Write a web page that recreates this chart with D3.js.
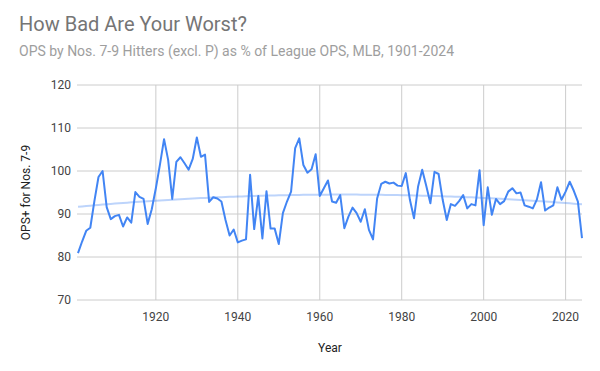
<!DOCTYPE html>
<html>
<head>
<meta charset="utf-8">
<script src="https://cdn.jsdelivr.net/npm/d3@7"></script>
<style>
  body { margin: 0; background: #fff; }
  svg { font-family: Roboto, Arial, sans-serif; }
</style>
</head>
<body>
<div id="chart"></div>
<script>
const firstYear = 1901;
const opsPlus = [
  80.9, 83.6, 86.1, 86.8, 93.0, 98.6, 100.0, 91.6, 88.8, 89.5,
  89.8, 87.1, 89.2, 88.0, 95.1, 94.0, 93.5, 87.7, 91.1, 96.0,
  101.5, 107.4, 102.6, 93.5, 102.1, 103.2, 101.8, 100.3, 102.8, 107.8,
  103.3, 103.8, 92.8, 93.9, 93.6, 92.9, 88.6, 85.0, 86.4, 83.4,
  83.8, 84.1, 99.1, 86.5, 94.2, 84.3, 95.3, 86.6, 86.6, 83.0,
  90.2, 92.9, 95.2, 105.3, 107.6, 101.4, 99.6, 100.4, 103.9, 94.2,
  96.0, 97.8, 92.9, 92.6, 94.4, 86.7, 89.4, 91.5, 90.2, 88.2,
  91.1, 86.3, 84.1, 93.6, 97.0, 97.5, 97.1, 97.3, 96.6, 96.5,
  99.5, 93.3, 89.0, 96.4, 100.3, 96.5, 92.5, 99.8, 99.3, 93.3,
  88.6, 92.3, 91.9, 93.0, 94.4, 91.3, 92.3, 92.0, 100.2, 87.4,
  96.2, 89.8, 93.5, 92.3, 93.0, 95.2, 96.0, 94.8, 95.0, 92.0,
  91.7, 91.3, 93.4, 97.4, 90.8, 91.5, 92.0, 96.2, 93.3, 95.2,
  97.5, 95.4, 92.9, 84.4
];
const years = d3.range(firstYear, firstYear + opsPlus.length);
const xTicks = [1920, 1940, 1960, 1980, 2000, 2020];
const yTicks = [70, 80, 90, 100, 110, 120];

const data = years.map((y, i) => ({ year: y, value: opsPlus[i] }));

// quadratic (polynomial) trendline fitted to the series
function polyFit(pts) {
  const x0 = d3.mean(pts, d => d.year);
  let s = [0, 0, 0, 0, 0], t = [0, 0, 0];
  pts.forEach(d => {
    const u = d.year - x0;
    for (let k = 0; k < 5; k++) s[k] += Math.pow(u, k);
    for (let k = 0; k < 3; k++) t[k] += d.value * Math.pow(u, k);
  });
  const A = [[s[0], s[1], s[2], t[0]], [s[1], s[2], s[3], t[1]], [s[2], s[3], s[4], t[2]]];
  for (let i = 0; i < 3; i++) {
    for (let j = i + 1; j < 3; j++) {
      const f = A[j][i] / A[i][i];
      for (let k = i; k < 4; k++) A[j][k] -= f * A[i][k];
    }
  }
  const c = [0, 0, 0];
  for (let i = 2; i >= 0; i--) {
    let v = A[i][3];
    for (let k = i + 1; k < 3; k++) v -= A[i][k] * c[k];
    c[i] = v / A[i][i];
  }
  return yr => c[0] + c[1] * (yr - x0) + c[2] * (yr - x0) * (yr - x0);
}
const trend = polyFit(data);
const trendData = years.map(y => ({ year: y, value: trend(y) }));

const width = 600, height = 371;
const margin = { top: 85, right: 18, bottom: 71, left: 78 };

const svg = d3.select("#chart").append("svg")
  .attr("width", width)
  .attr("height", height);

const x = d3.scaleLinear()
  .domain([firstYear, years[years.length - 1]])
  .range([margin.left, width - margin.right]);
const y = d3.scaleLinear()
  .domain([70, 120])
  .range([height - margin.bottom, margin.top]);

// titles
svg.append("text")
  .attr("x", 19).attr("y", 31)
  .style("font-size", "20px").style("fill", "#757575")
  .text("How Bad Are Your Worst?");
svg.append("text")
  .attr("x", 19).attr("y", 56)
  .style("font-size", "14px").style("fill", "#9e9e9e")
  .text("OPS by Nos. 7-9 Hitters (excl. P) as % of League OPS, MLB, 1901-2024");

// gridlines
svg.append("g").selectAll("line")
  .data(yTicks).enter().append("line")
  .attr("x1", margin.left - 1).attr("x2", width - margin.right)
  .attr("y1", d => y(d)).attr("y2", d => y(d))
  .attr("stroke", "#cccccc").attr("stroke-width", 1);
svg.append("g").selectAll("line")
  .data(xTicks).enter().append("line")
  .attr("x1", d => x(d)).attr("x2", d => x(d))
  .attr("y1", margin.top).attr("y2", height - margin.bottom)
  .attr("stroke", "#cccccc").attr("stroke-width", 1);

// axes labels
svg.append("g").selectAll("text")
  .data(yTicks).enter().append("text")
  .attr("x", 71).attr("y", d => y(d)).attr("dy", "0.35em")
  .attr("text-anchor", "end")
  .style("font-size", "12px").style("fill", "#444")
  .text(d => d);
svg.append("g").selectAll("text")
  .data(xTicks).enter().append("text")
  .attr("x", d => x(d)).attr("y", 321)
  .attr("text-anchor", "middle")
  .style("font-size", "12px").style("fill", "#444")
  .text(d => d);

svg.append("text")
  .attr("x", (margin.left + width - margin.right) / 2).attr("y", 352)
  .attr("text-anchor", "middle")
  .style("font-size", "12px").style("fill", "#222")
  .text("Year");
svg.append("text")
  .attr("transform", `translate(30, ${(margin.top + height - margin.bottom) / 2}) rotate(-90)`)
  .attr("text-anchor", "middle")
  .style("font-size", "12px").style("fill", "#222")
  .text("OPS+ for Nos. 7-9");

const line = d3.line().x(d => x(d.year)).y(d => y(d.value));

svg.append("path")
  .datum(trendData)
  .attr("d", line)
  .attr("fill", "none")
  .attr("stroke", "#4285f4").attr("stroke-opacity", 0.35)
  .attr("stroke-width", 2);

svg.append("path")
  .datum(data)
  .attr("d", line)
  .attr("fill", "none")
  .attr("stroke", "#4285f4")
  .attr("stroke-width", 2)
  .attr("stroke-linejoin", "round");
</script>
</body>
</html>
